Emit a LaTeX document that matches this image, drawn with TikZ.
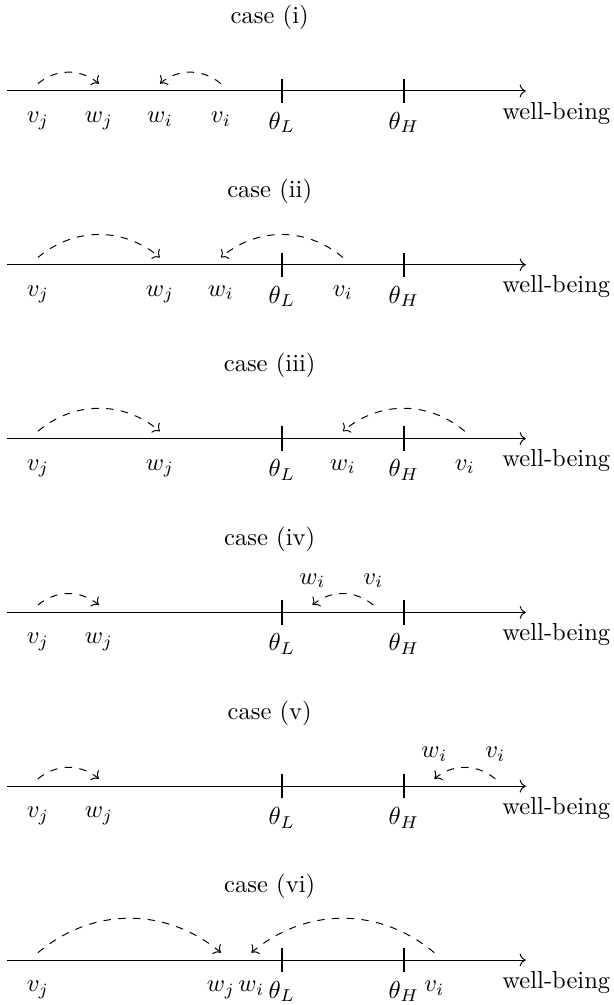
\documentclass[tikz,border=0pt]{standalone}
\usepackage{amsmath,amssymb}
\usepackage{xcolor}
\usepackage{tikz}
\usetikzlibrary{arrows.meta}

% one number line: title, axis, label and the two thresholds
\newcommand{\wbline}[2]{%
  \node (title#1) at (1.9,0.6) {case (#2)};
  \coordinate (start#1) at (-0.25,0);
  \coordinate (end#1) at (4,0);
  \draw[->] (start#1) -- (end#1);
  \node[below] (wb#1) at (4.25,-0.02) {well-being};
  \draw[tk] (2,0.1) -- (2,-0.1) node[lb] (thL#1) {$\theta_L$};
  \draw[tk] (3,0.1) -- (3,-0.1) node[lb] (thH#1) {$\theta_H$};
}
% a point with its label under / over the line
\newcommand{\wbdown}[3]{%
  \node[lb] (#1) at (#2,-0.1) {$#3$};
  \coordinate (a#1) at (#2,0.06);
}
\newcommand{\wbup}[3]{%
  \node[la] (#1) at (#2,0.13) {$#3$};
  \coordinate (a#1) at (#2,0.06);
}

\begin{document}
\begin{tikzpicture}[x=1.743cm, y=1.743cm, >=To,
  tk/.style={semithick},
  lb/.style={anchor=north},
  la/.style={anchor=south},
  jr/.style={->, dashed, bend left=40},
  jl/.style={->, dashed, bend right=40}]
\useasboundingbox (-0.311,0.746) rectangle (4.721,-7.494);

% case (i)
\begin{scope}
\wbline{1}{i}
\wbdown{vj1}{0}{v_j}
\wbdown{wj1}{0.5}{w_j}
\wbdown{wi1}{1}{w_i}
\wbdown{vi1}{1.5}{v_i}
\draw[jr] (avj1) to (awj1);
\draw[jl] (avi1) to (awi1);
\end{scope}

% case (ii)
\begin{scope}[shift={(0,-1.425)}]
\wbline{2}{ii}
\wbdown{vj2}{0}{v_j}
\wbdown{wj2}{1}{w_j}
\wbdown{wi2}{1.5}{w_i}
\wbdown{vi2}{2.5}{v_i}
\draw[jr] (avj2) to (awj2);
\draw[jl] (avi2) to (awi2);
\end{scope}

% case (iii)
\begin{scope}[shift={(0,-2.85)}]
\wbline{3}{iii}
\wbdown{vj3}{0}{v_j}
\wbdown{wj3}{1}{w_j}
\wbdown{wi3}{2.5}{w_i}
\wbdown{vi3}{3.5}{v_i}
\draw[jr] (avj3) to (awj3);
\draw[jl] (avi3) to (awi3);
\end{scope}

% case (iv)
\begin{scope}[shift={(0,-4.275)}]
\wbline{4}{iv}
\wbdown{vj4}{0}{v_j}
\wbdown{wj4}{0.5}{w_j}
\wbup{wi4}{2.25}{w_i}
\wbup{vi4}{2.75}{v_i}
\draw[jr] (avj4) to (awj4);
\draw[jl] (avi4) to (awi4);
\end{scope}

% case (v)
\begin{scope}[shift={(0,-5.7)}]
\wbline{5}{v}
\wbdown{vj5}{0}{v_j}
\wbdown{wj5}{0.5}{w_j}
\wbup{wi5}{3.25}{w_i}
\wbup{vi5}{3.75}{v_i}
\draw[jr] (avj5) to (awj5);
\draw[jl] (avi5) to (awi5);
\end{scope}

% case (vi)
\begin{scope}[shift={(0,-7.125)}]
\wbline{6}{vi}
\wbdown{vj6}{0}{v_j}
\wbdown{wj6}{1.5}{w_j}
\wbdown{wi6}{1.75}{w_i}
\wbdown{vi6}{3.25}{v_i}
\draw[jr] (avj6) to (awj6);
\draw[jl] (avi6) to (awi6);
\end{scope}
\end{tikzpicture}
\end{document}
